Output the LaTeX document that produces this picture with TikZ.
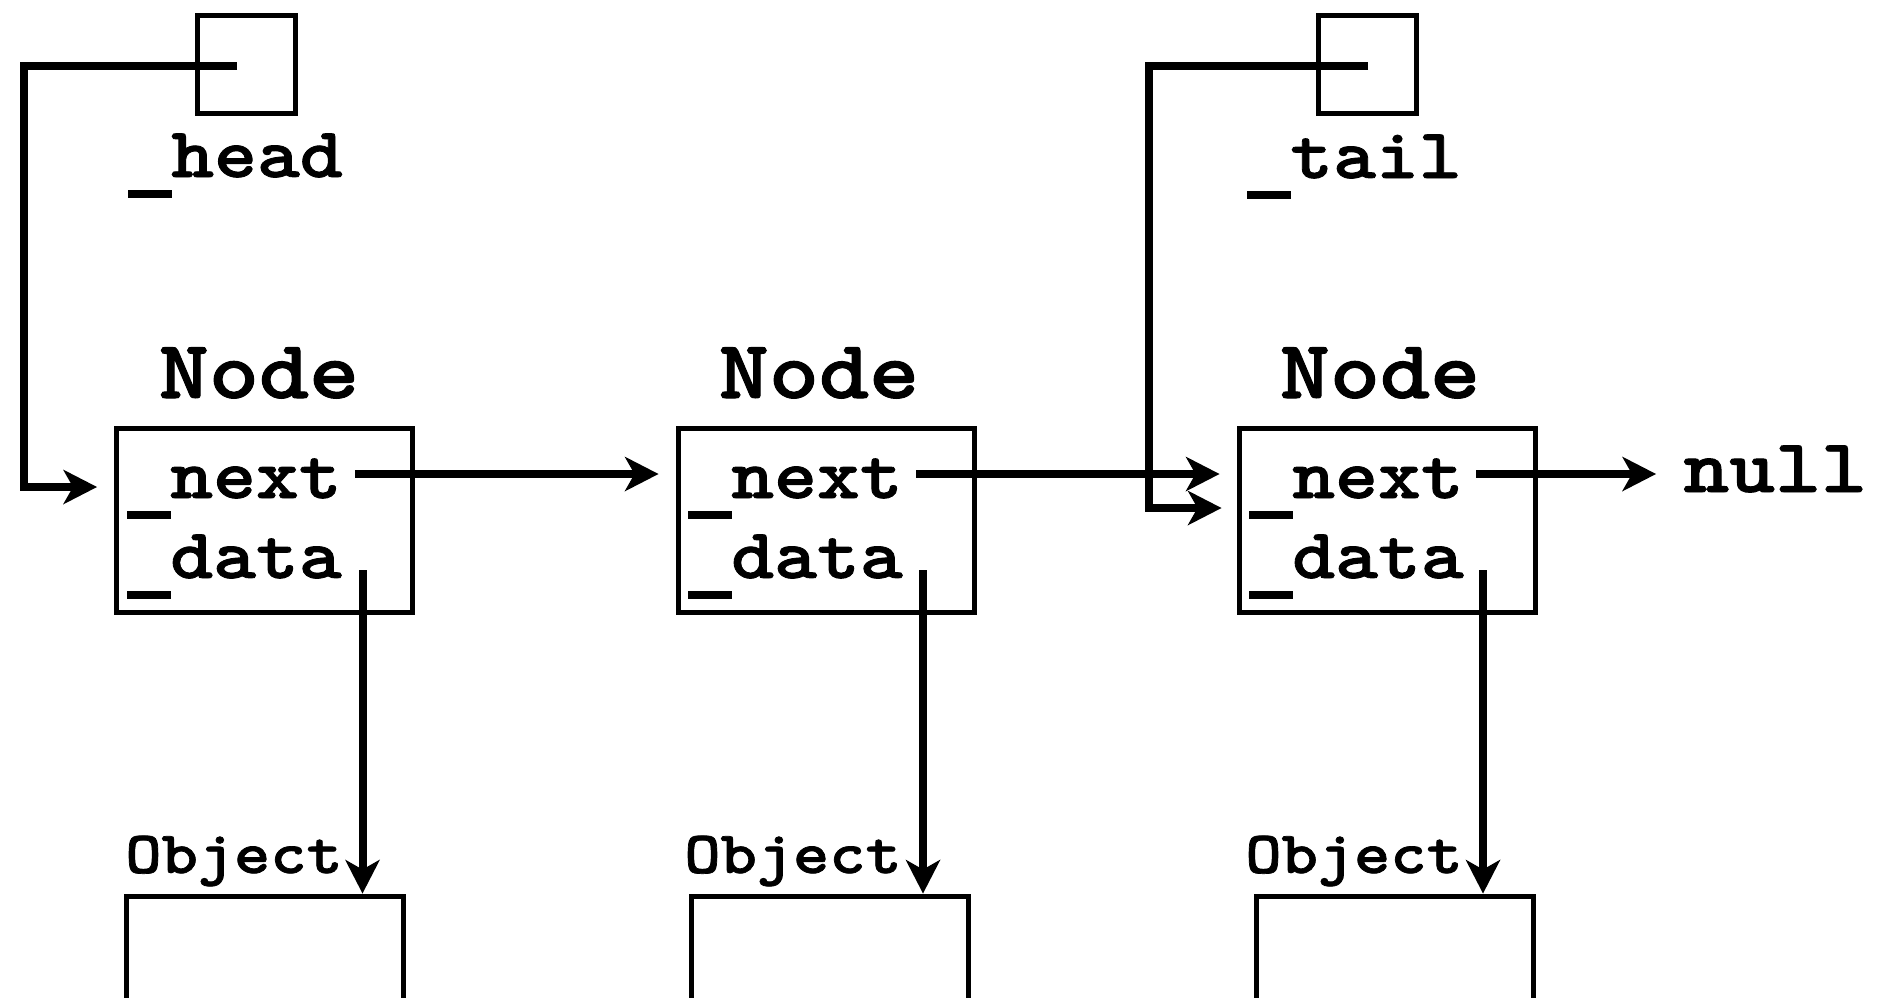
\documentclass[tikz,border=0pt]{standalone}
\usepackage{fontspec}
% bold slab-serif typewriter face, widened to a Courier-like pitch
\newfontfamily\typefont{lmmonolt10-bold}[Extension=.otf,FakeStretch=1.15,FakeBold=1.2]
% full-width underscore set low, below the baseline
\newcommand\lowbar{\rlap{\rule[-0.29em]{0.62em}{0.11em}}\phantom{\_}}
\usetikzlibrary{arrows.meta}
\begin{document}
\begin{tikzpicture}[x=0.5pt,y=-0.5pt,
  fieldbox/.style={draw,line width=2.5pt,inner sep=0pt,minimum width=148pt,minimum height=92pt},
  ptrbox/.style={draw,line width=2.5pt,inner sep=0pt,minimum size=49pt},
  objbox/.style={draw,line width=2.5pt,inner sep=0pt,minimum width=138.5pt,minimum height=70pt,anchor=north},
  field/.style={inner sep=0pt,anchor=base west,font=\fontsize{35.5}{35.5}\selectfont\typefont},
  title/.style={inner sep=0pt,anchor=base,font=\fontsize{41.5}{41.5}\selectfont\typefont},
  objlabel/.style={inner sep=0pt,anchor=base west,font=\fontsize{30}{30}\selectfont\typefont},
  nulllabel/.style={inner sep=0pt,anchor=base west,font=\fontsize{38}{38}\selectfont\typefont},
  link/.style={line width=4pt,line join=miter,
    -{Stealth[length=17pt,width=17.5pt,inset=5pt,line width=0pt]}},
]
\useasboundingbox (0,0) rectangle (1878,997);
\clip (0,0) rectangle (1878,997);

% head and tail reference boxes
\node[ptrbox] (hbox) at (246.5,64.5) {};
\node[ptrbox] (tbox) at (1367,64.5) {};
\node[field] (hname) at (128,177) {\lowbar head};
\node[field] (tname) at (1247,178) {\lowbar tail};

% list nodes
\node[fieldbox] (n1) at (264.5,520.5) {};
\node[fieldbox] (n2) at (826,520.5) {};
\node[fieldbox] (n3) at (1387,520.5) {};
\node[title] (t1) at (259,398) {Node};
\node[title] (t2) at (819,398) {Node};
\node[title] (t3) at (1380,398) {Node};
\node[field] (x1) at (127,498) {\lowbar next};
\node[field] (a1) at (127,578) {\lowbar data};
\node[field] (x2) at (688,498) {\lowbar next};
\node[field] (a2) at (688,578) {\lowbar data};
\node[field] (x3) at (1249,498) {\lowbar next};
\node[field] (a3) at (1249,578) {\lowbar data};
\node[nulllabel] (nul) at (1683,492) {null};

% payload objects
\node[objbox] (o1) at (265,893.5) {};
\node[objbox] (o2) at (830,893.5) {};
\node[objbox] (o3) at (1395,893.5) {};
\node[objlabel] (ol1) at (125,873) {Object};
\node[objlabel] (ol2) at (684,873) {Object};
\node[objlabel] (ol3) at (1245,873) {Object};

% connector end points inside the boxes
\coordinate (hp) at (237,66);
\coordinate (hc) at (24,487);
\coordinate (tp) at (1368,66);
\coordinate (tc) at (1149,508);
\coordinate (nx1) at (355,474);
\coordinate (nx2) at (916,474);
\coordinate (nx3) at (1476,474);
\coordinate (d1) at (362.5,570);
\coordinate (d2) at (923,570);
\coordinate (d3) at (1483,570);

% head and tail pointers
\draw[link,shorten >=8.5pt] (hp) -| (hc) -- (n1.west |- hc);
\draw[link,shorten >=7.5pt] (tp) -| (tc) -- (n3.west |- tc);

% next links
\draw[link,shorten >=8.5pt] (nx1) -- (n2.west |- nx1);
\draw[link,shorten >=8.5pt] (nx2) -- (n3.west |- nx2);
\draw[link,shorten >=13.5pt] (nx3) -- (nul.west |- nx3);

% data links
\draw[link] (d1) -- (d1 |- o1.north);
\draw[link] (d2) -- (d2 |- o2.north);
\draw[link] (d3) -- (d3 |- o3.north);
\end{tikzpicture}
\end{document}
